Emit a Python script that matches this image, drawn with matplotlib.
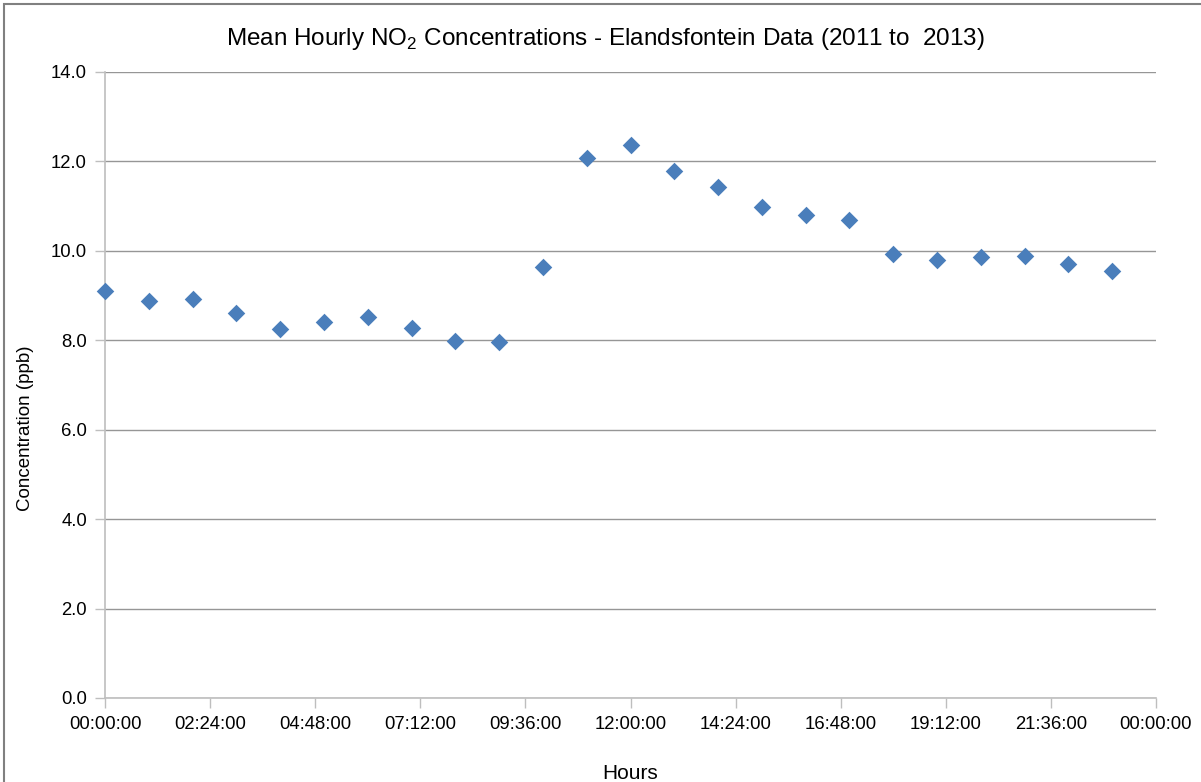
import matplotlib
matplotlib.use("Agg")
import matplotlib.pyplot as plt
from matplotlib import font_manager
from matplotlib.patches import Rectangle

# ---- data ----
hours = list(range(24))
no2_ppb = [9.11, 8.87, 8.92, 8.61, 8.26, 8.40, 8.52, 8.27, 7.99, 7.96,
           9.65, 12.07, 12.37, 11.78, 11.42, 10.97, 10.81, 10.70,
           9.93, 9.79, 9.86, 9.88, 9.70, 9.56]
x_tick_pos = [0, 2.4, 4.8, 7.2, 9.6, 12.0, 14.4, 16.8, 19.2, 21.6, 24.0]
x_tick_labels = ["00:00:00", "02:24:00", "04:48:00", "07:12:00", "09:36:00",
                 "12:00:00", "14:24:00", "16:48:00", "19:12:00", "21:36:00",
                 "00:00:00"]
y_ticks = [0, 2, 4, 6, 8, 10, 12, 14]
y_tick_labels = ["0.0", "2.0", "4.0", "6.0", "8.0", "10.0", "12.0", "14.0"]

names = {f.name for f in font_manager.fontManager.ttflist}
fam = "Liberation Sans Narrow" if "Liberation Sans Narrow" in names else "Liberation Sans"
plt.rcParams['font.family'] = [fam, 'DejaVu Sans']
plt.rcParams['mathtext.fontset'] = 'custom'
plt.rcParams['mathtext.rm'] = fam

W, H = 1201, 782
fig = plt.figure(figsize=(W / 100, H / 100), dpi=100)
ax = fig.add_axes([105 / W, 1 - 698 / H, (1156 - 105) / W, (698 - 72) / H])

ax.scatter(hours, no2_ppb, marker='D', s=80, color='#4A7EBB', zorder=3,
           linewidths=0, clip_on=False)

ax.set_xlim(0, 24)
ax.set_ylim(0, 14)
ax.set_xticks(x_tick_pos)
ax.set_xticklabels(x_tick_labels, fontsize=13.3)
ax.set_yticks(y_ticks)
ax.set_yticklabels(y_tick_labels, fontsize=13.3)
ax.yaxis.grid(True, color='#969696', linewidth=1.0)
ax.set_axisbelow(True)
for s in ['top', 'right']:
    ax.spines[s].set_visible(False)
for s in ['left', 'bottom']:
    ax.spines[s].set_color('#BEBEBE')
    ax.spines[s].set_linewidth(1.2)
ax.tick_params(axis='both', colors='#BEBEBE', labelcolor='black', length=7, width=1.0)
ax.tick_params(axis='x', pad=6)
ax.tick_params(axis='y', pad=6)

ax.set_xlabel("Hours", fontsize=15, labelpad=22)
ax.set_ylabel("Concentration (ppb)", fontsize=13.5)
ax.yaxis.set_label_coords((34 - 105) / (1156 - 105), (698 - 428) / (698 - 72))

fig.text(605 / W, 1 - 45 / H,
         "Mean Hourly NO$_\\mathregular{2}$ Concentrations - Elandsfontein Data (2011 to  2013)",
         ha='center', va='baseline', fontsize=17.5)

fig.patches.append(Rectangle((4 / W, -0.1), 1.2, 1 - 4 / H + 0.1, transform=fig.transFigure,
                             fill=False, edgecolor='#808080', linewidth=1.5))

fig.savefig("out.png", dpi=100)
